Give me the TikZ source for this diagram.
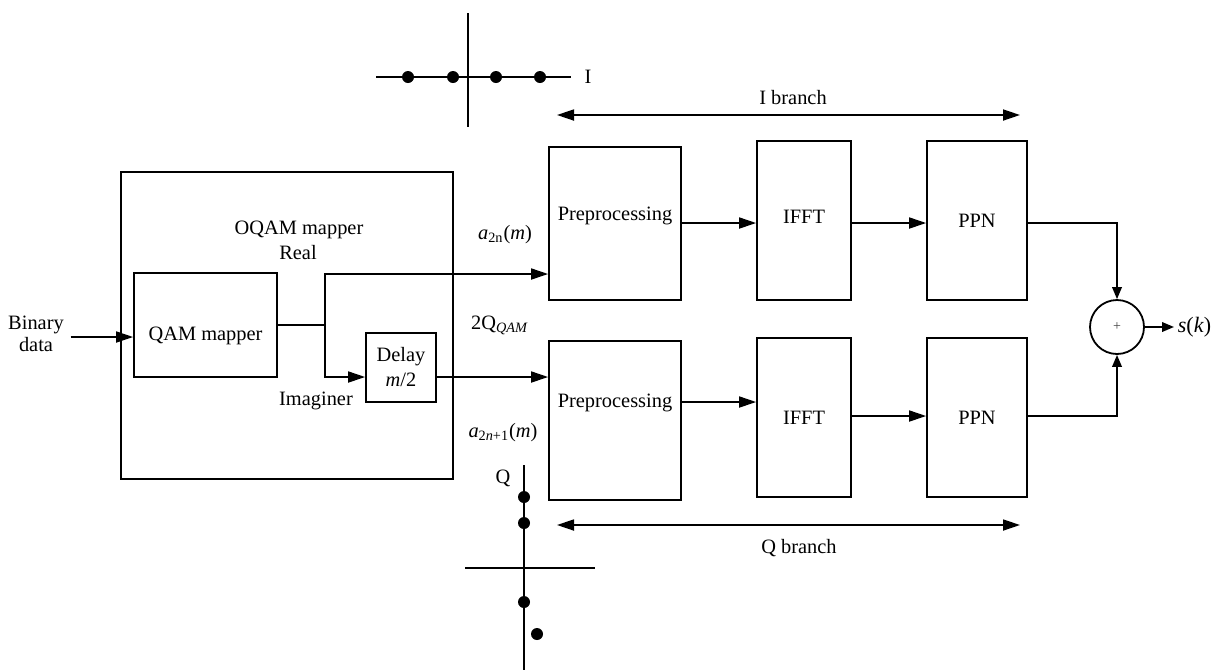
\documentclass[tikz,border=0pt]{standalone}
\usepackage{fontspec}
\setmainfont{Liberation Serif}
\usetikzlibrary{arrows.meta,calc}
\begin{document}
\begin{tikzpicture}[x=0.5pt,y=-0.5pt,
  line width=0.9pt,
  blk/.style={draw, line width=0.9pt, inner sep=0pt},
  txt/.style={inner sep=0pt, font=\fontsize{10.2}{12}\selectfont},
  arr/.style={-{Triangle[length=8.5pt,width=5.5pt]}},
  sarr/.style={-{Triangle[length=6pt,width=4.8pt]}},
  darr/.style={{Triangle[length=8.5pt,width=5.5pt]}-{Triangle[length=8.5pt,width=5.5pt]}},
  dot/.style={circle, fill, inner sep=0pt, minimum size=6pt}
]
\useasboundingbox (0,0) rectangle (1220,671);

% ---------- I constellation ----------
\coordinate (iv1) at (468,13);
\coordinate (iv2) at (468,127);
\coordinate (ih1) at (376,77);
\coordinate (ih2) at (571,77);
\draw (iv1) -- (iv2);
\draw (ih1) -- (ih2);
\node[dot] (id1) at (408,77) {};
\node[dot] (id2) at (453,77) {};
\node[dot] (id3) at (496,77) {};
\node[dot] (id4) at (540,77) {};
\node[txt] (ilab) at (588,77) {I};

% ---------- Q constellation ----------
\coordinate (qv1) at (524,465);
\coordinate (qv2) at (524,670);
\coordinate (qh1) at (465,568);
\coordinate (qh2) at (595,568);
\draw (qv1) -- (qv2);
\draw (qh1) -- (qh2);
\node[dot] (qd1) at (524,497) {};
\node[dot] (qd2) at (524,523) {};
\node[dot] (qd3) at (524,602) {};
\node[dot] (qd4) at (537,634) {};
\node[txt] (qlab) at (503,478) {Q};

% ---------- OQAM mapper ----------
\node[blk, minimum width=166pt, minimum height=153.5pt] (oqam) at (287,325.5) {};
\node[txt] (oqt) at (299,230) {OQAM mapper};
\node[txt] (real) at (298,253) {Real};
\node[blk, minimum width=71.5pt, minimum height=52pt,
      label={[txt,yshift=-5.5pt]center:QAM mapper}] (qam) at (205.5,325) {};
\node[blk, minimum width=35pt, minimum height=34.5pt, align=center,
      font=\fontsize{10.2}{12.5}\selectfont] (delay) at (401,367.5) {Delay\\\textit{m}/2};
\node[txt] (imag) at (316,401) {Imaginer};
\node[txt, align=center, font=\fontsize{10.2}{11}\selectfont] (bin) at (36,334) {Binary\\data};

% ---------- labels between ----------
\node[txt] (a2n) at (505,235) {\textit{a}\textsubscript{2n}(\textit{m})};
\node[txt] (qqam) at (500,325) {2Q\textsubscript{\textit{QAM}}};
\node[txt] (a2n1) at (503,433) {\textit{a}\textsubscript{2\textit{n}+1}(\textit{m})};

% ---------- I branch blocks ----------
\node[blk, minimum width=66pt, minimum height=76.5pt,
      label={[txt,yshift=3.75pt]center:Preprocessing}] (pre1) at (615,223.5) {};
\node[blk, minimum width=47pt, minimum height=79.5pt,
      label={[txt,yshift=1.75pt]center:IFFT}] (ifft1) at (804,220.5) {};
\node[blk, minimum width=50pt, minimum height=79.5pt,
      label={[txt]center:PPN}] (ppn1) at (977,220.5) {};

% ---------- Q branch blocks ----------
\node[blk, minimum width=66pt, minimum height=79.5pt,
      label={[txt,yshift=8.75pt]center:Preprocessing}] (pre2) at (615,420.5) {};
\node[blk, minimum width=47pt, minimum height=79.5pt,
      label={[txt]center:IFFT}] (ifft2) at (804,417.5) {};
\node[blk, minimum width=50pt, minimum height=79.5pt,
      label={[txt]center:PPN}] (ppn2) at (977,417.5) {};

% ---------- sum ----------
\node[draw, circle, minimum size=27pt, inner sep=0pt, font=\scriptsize, text=black!75] (sum) at (1117,327) {+};
\node[inner sep=1.5pt, anchor=west, font=\fontsize{11}{13}\selectfont] (sk) at (1174,327) {\textit{s}(\textit{k})};

% ---------- branch arrows ----------
\coordinate (ib1) at (557,115);
\coordinate (ib2) at (1020,115);
\draw[darr] (ib1) -- (ib2);
\node[txt] (ibl) at (793,98) {I branch};
\coordinate (qb1) at (557,525);
\coordinate (qb2) at (1020,525);
\draw[darr] (qb1) -- (qb2);
\node[txt] (qbl) at (799,548) {Q branch};

% ---------- connectors ----------
\coordinate (j) at (325,325);
\coordinate (ytop) at (0,274);
\coordinate (ybot) at (0,377);
\coordinate (yin) at (0,337);
\coordinate (yi) at (0,223);
\coordinate (y2a) at (0,402);
\coordinate (y2b) at (0,416);

\draw[arr] (bin.east |- yin) ++(6,0) -- (qam.west |- yin);
\draw (qam.east) -- (j);
\draw[arr] (j) |- (pre1.west |- ytop);
\draw[arr] (j) |- (delay.west |- ybot);
\draw[arr] (delay.east |- ybot) -- (pre2.west |- ybot);

\draw[arr] (pre1.east |- yi) -- (ifft1.west |- yi);
\draw[arr] (ifft1.east |- yi) -- (ppn1.west |- yi);
\draw[arr] (pre2.east |- y2a) -- (ifft2.west |- y2a);
\draw[arr] (ifft2.east |- y2b) -- (ppn2.west |- y2b);

\draw[sarr] (ppn1.east |- yi) -| (sum.north);
\draw[sarr] (ppn2.east |- y2b) -| (sum.south);
\draw[sarr] (sum.east) -- (sk.west);
\end{tikzpicture}
\end{document}
